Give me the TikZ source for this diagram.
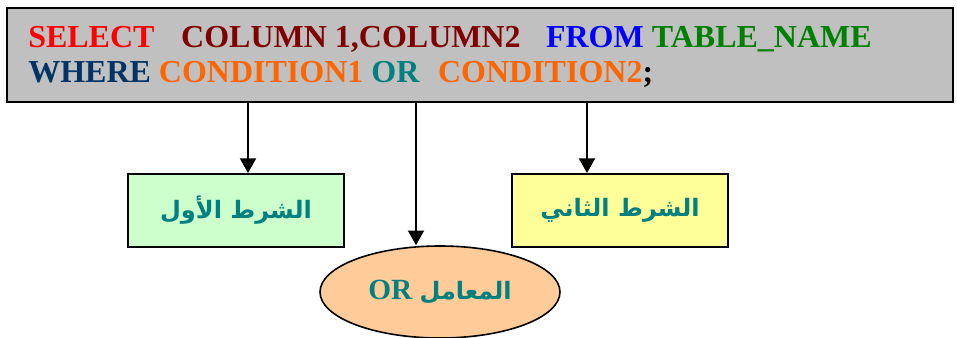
\documentclass[tikz,border=0pt]{standalone}
\usepackage{fontspec}
\setmainfont{Liberation Serif}
\newfontfamily\arabicfont[Script=Arabic]{DejaVu Sans}
\TeXXeTstate=1
\usepackage{xcolor}
\usepackage{tikz}
\usetikzlibrary{arrows.meta, shapes.geometric}

\definecolor{sqlred}{HTML}{FF0000}
\definecolor{sqlmaroon}{HTML}{800000}
\definecolor{sqlblue}{HTML}{0000FF}
\definecolor{sqlgreen}{HTML}{008000}
\definecolor{sqlnavy}{HTML}{003366}
\definecolor{sqlorange}{HTML}{FF6600}
\definecolor{sqlteal}{HTML}{008080}
\definecolor{boxgray}{HTML}{C0C0C0}
\definecolor{boxgreen}{HTML}{CCFFCC}
\definecolor{boxyellow}{HTML}{FFFF99}
\definecolor{boxpeach}{HTML}{FFCC99}

\begin{document}
\begin{tikzpicture}[x=0.75pt, y=-0.75pt,
  sqltext/.style={anchor=base west, inner sep=0pt, font=\fontsize{24}{26}\selectfont\bfseries},
  condbox/.style={draw=black, line width=1.5pt, minimum width=162pt, minimum height=54.75pt,
    text=sqlteal, font=\arabicfont\fontsize{18}{20}\selectfont\bfseries},
  arr/.style={-{Triangle[width=12pt, length=11pt]}, line width=1.5pt}]
  \useasboundingbox (0,0) rectangle (957,337);
  % صندوق الاستعلام
  \node[draw=black, line width=1.5pt, fill=boxgray, minimum width=709.5pt, minimum height=70.5pt] (sql) at (480,55) {};
  % السطر الأول
  \node[sqltext] (lineone) at (28,47)
    {\textcolor{sqlred}{SELECT}\hspace{20pt}\textcolor{sqlmaroon}{COLUMN 1,COLUMN2}\hspace{19pt}\textcolor{sqlblue}{FROM} \textcolor{sqlgreen}{TABLE\_NAME}};
  % السطر الثاني
  \node[sqltext] (linetwo) at (28,82)
    {\textcolor{sqlnavy}{WHERE} \textcolor{sqlorange}{CONDITION1} \textcolor{sqlteal}{OR}\hspace{14pt}\textcolor{sqlorange}{CONDITION2};};
  % الشرط الأول
  \node[condbox, fill=boxgreen] (cond1) at (236,210.5) {\raisebox{3pt}{\beginR الشرط الأول\endR}};
  % الشرط الثاني
  \node[condbox, fill=boxyellow] (cond2) at (620,210.5) {\raisebox{3pt}{\beginR الشرط الثاني\endR}};
  % المعامل
  \node[ellipse, draw=black, line width=1.2pt, fill=boxpeach, minimum width=180pt, minimum height=69pt,
    text=sqlteal, font=\fontsize{22}{24}\selectfont\bfseries] (oper) at (440,292)
    {\raisebox{2pt}{\beginR{\arabicfont\fontsize{18}{20}\selectfont المعامل} \beginL OR\endL\endR}};
  % الأسهم
  \coordinate (top1) at (248,102);
  \coordinate (top2) at (416,102);
  \coordinate (top3) at (587,102);
  \draw[arr] (top1) -- (top1 |- cond1.north);
  \draw[arr] (top2) -- (top2 |- oper.north);
  \draw[arr] (top3) -- (top3 |- cond2.north);
\end{tikzpicture}
\end{document}
